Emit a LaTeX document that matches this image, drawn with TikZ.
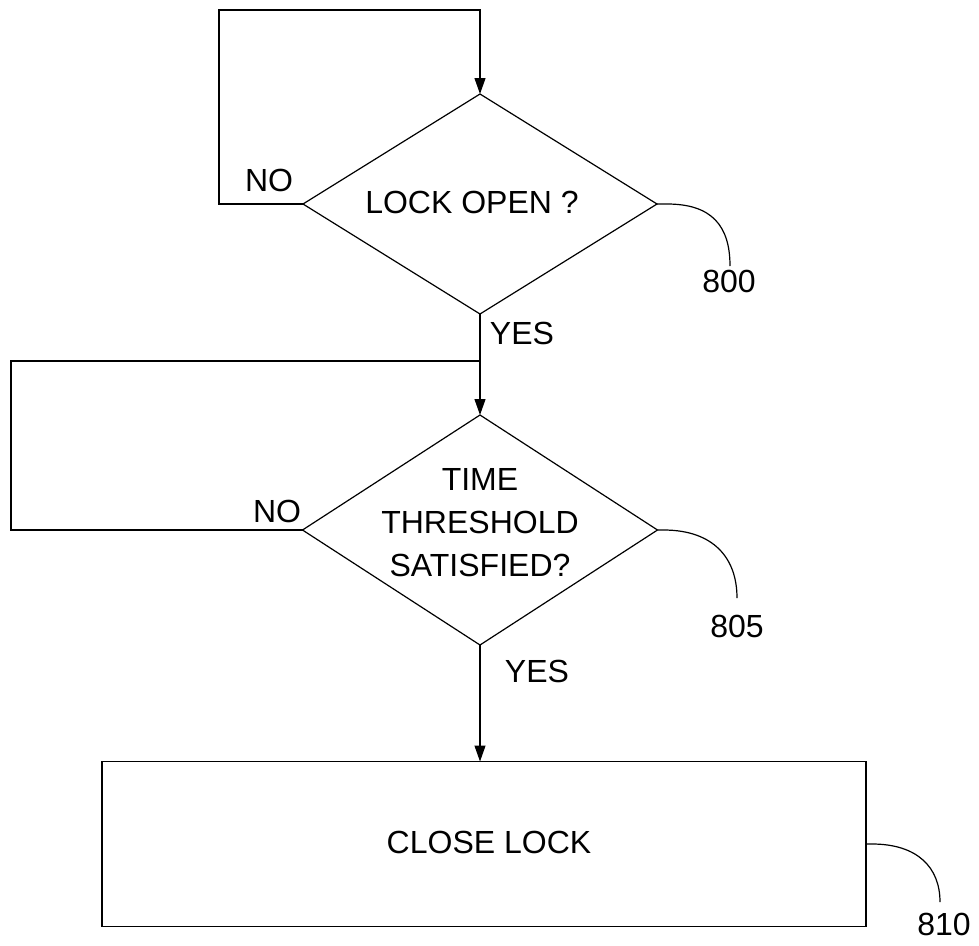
\documentclass[tikz,border=0pt]{standalone}
\usepackage{fontspec}
\setmainfont{Liberation Sans}
\usetikzlibrary{shapes.geometric,arrows.meta}
\begin{document}
\begin{tikzpicture}[x=1pt,y=-1pt,
  line/.style={draw=black,line width=1.2pt},
  arr/.style={line,-{Triangle[length=16pt,width=11pt]}},
  decision/.style={diamond,draw=black,line width=1.2pt,inner sep=0pt,outer sep=0pt},
  procbox/.style={rectangle,draw=black,line width=1.2pt,inner sep=0pt,outer sep=0pt,minimum width=764pt,minimum height=165pt},
  txt/.style={font=\fontsize{32}{43}\selectfont,inner sep=0pt,align=center},
]
\useasboundingbox (0,0) rectangle (979,945);
% shapes
\node[decision,minimum width=354pt,minimum height=220pt] (d1) at (480,204) {};
\node[decision,minimum width=355pt,minimum height=230pt] (d2) at (480,530) {};
\node[procbox] (p1) at (484,844) {};
% texts
\node[txt] (t1) at (472,202) {LOCK OPEN ?};
\node[txt] (t2) at (480,523) {TIME\\THRESHOLD\\SATISFIED?};
\node[txt] (t3) at (489,842) {CLOSE LOCK};
\node[txt] (no1) at (269,180) {NO};
\node[txt] (no2) at (277,511) {NO};
\node[txt] (yes1) at (522,333) {YES};
\node[txt] (yes2) at (537,671) {YES};
\node[txt] (r800) at (729,281) {800};
\node[txt] (r805) at (737,626) {805};
\node[txt] (r810) at (944,924) {810};
% loop 1
\coordinate (a1) at (219,204);
\coordinate (a2) at (219,10);
\coordinate (a3) at (480,10);
\draw[arr] (d1.west) -- (a1) -- (a2) -- (a3) -- (d1.north);
% main flow
\draw[arr] (d1.south) -- (d2.north);
\draw[arr] (d2.south) -- (d2.south |- p1.north);
% loop 2
\coordinate (b1) at (11,530);
\coordinate (b2) at (11,361);
\coordinate (b3) at (480,361);
\draw[line] (d2.west) -- (b1) -- (b2) -- (b3);
% reference curves
\coordinate (e800) at (730,266);
\coordinate (e805) at (737,598);
\coordinate (e810) at (940,902);
\draw[line] (d1.east) -- ++(10,0) .. controls +(45,0) and +(0,-40) .. (e800);
\draw[line] (d2.east) -- ++(6,0) .. controls +(50,0) and +(0,-40) .. (e805);
\draw[line] (p1.east) -- ++(6,0) .. controls +(45,0) and +(0,-35) .. (e810);
\end{tikzpicture}
\end{document}
